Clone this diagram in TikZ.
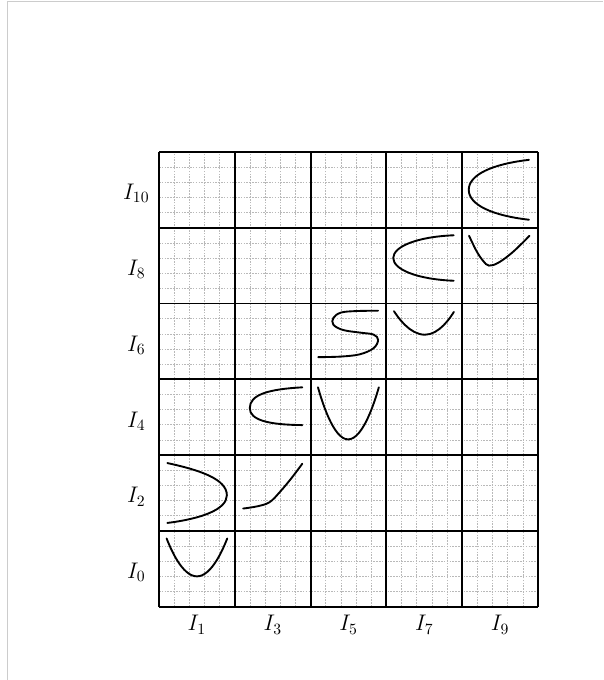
\documentclass[tikz,border=0pt]{standalone}
\usetikzlibrary{calc}
\tikzset{
  subgrid/.style={gray!55, line width=0.4pt, dash pattern=on 1pt off 0.8pt},
  majorgrid/.style={black, line width=1.25pt},
  curvepath/.style={black, line width=1.2pt, line cap=round},
  framepath/.style={gray!40, line width=0.6pt},
  lbl/.style={inner sep=1pt, font=\Large}
}
\begin{document}
\begin{tikzpicture}[x=1.7cm,y=1.7cm]
\useasboundingbox (-2.098,-0.967) rectangle (5.858,8.004);
% frame lines
\coordinate (fa) at (-2.001,-0.967);
\coordinate (fb) at (-2.001,7.987);
\coordinate (fc) at (5.858,7.987);
\draw[framepath] (fa) -- (fb) -- (fc);
% grids
\draw[subgrid, step=0.2] (0,0) grid (5,6);
\draw[majorgrid, step=1] (0,0) grid (5,6);
% labels
\foreach \c/\t in {0/1,1/3,2/5,3/7,4/9}
  \node[lbl] (col\t) at (\c+0.5,-0.24) {$I_{\t}$};
\foreach \r/\t in {0/0,1/2,2/4,3/6,4/8,5/10}
  \node[lbl] (row\t) at (-0.3,\r+0.45) {$I_{\t}$};
% cell (0,0)
\begin{scope}[shift={(0,0)}]
  \draw[curvepath] (0.1,0.9) parabola bend (0.5,0.4) (0.9,0.9);
\end{scope}
% cell (0,1)
\begin{scope}[shift={(0,1)}]
  \draw[curvepath] (0.11,0.895) .. controls (0.55,0.8) and (0.895,0.68) .. (0.895,0.47)
     .. controls (0.895,0.28) and (0.55,0.16) .. (0.11,0.105);
\end{scope}
% cell (1,1)
\begin{scope}[shift={(1,1)}]
  \draw[curvepath] plot[smooth, tension=0.6] coordinates {(0.11,0.295) (0.3,0.325) (0.46,0.38) (0.6,0.52) (0.75,0.7) (0.89,0.886)};
\end{scope}
% cell (1,2)
\begin{scope}[shift={(1,2)}]
  \draw[curvepath] (0.89,0.894) .. controls (0.45,0.87) and (0.197,0.8) .. (0.197,0.62)
     .. controls (0.197,0.46) and (0.45,0.4) .. (0.89,0.396);
\end{scope}
% cell (2,2)
\begin{scope}[shift={(2,2)}]
  \draw[curvepath] (0.097,0.894) parabola bend (0.494,0.207) (0.9,0.894);
\end{scope}
% cell (2,3)
\begin{scope}[shift={(2,3)}]
  \draw[curvepath] plot[smooth, tension=0.6] coordinates {(0.89,0.905) (0.6,0.9) (0.4,0.88) (0.3,0.81) (0.3,0.72) (0.43,0.65) (0.66,0.615) (0.83,0.59) (0.89,0.52) (0.83,0.41) (0.65,0.33) (0.4,0.3) (0.1,0.292)};
\end{scope}
% cell (3,3)
\begin{scope}[shift={(3,3)}]
  \draw[curvepath] (0.1,0.898) parabola bend (0.508,0.588) (0.89,0.889);
\end{scope}
% cell (3,4)
\begin{scope}[shift={(3,4)}]
  \draw[curvepath] (0.888,0.9) .. controls (0.4,0.88) and (0.09,0.75) .. (0.09,0.6)
     .. controls (0.09,0.45) and (0.4,0.32) .. (0.888,0.3);
\end{scope}
% cell (4,4)
\begin{scope}[shift={(4,4)}]
  \draw[curvepath] plot[smooth, tension=0.6] coordinates {(0.09,0.894) (0.186,0.696) (0.274,0.564) (0.353,0.5) (0.48,0.54) (0.669,0.68) (0.888,0.894)};
\end{scope}
% cell (4,5)
\begin{scope}[shift={(4,5)}]
  \draw[curvepath] (0.88,0.895) .. controls (0.4,0.84) and (0.086,0.7) .. (0.086,0.5)
     .. controls (0.086,0.3) and (0.4,0.16) .. (0.88,0.105);
\end{scope}
\end{tikzpicture}
\end{document}
